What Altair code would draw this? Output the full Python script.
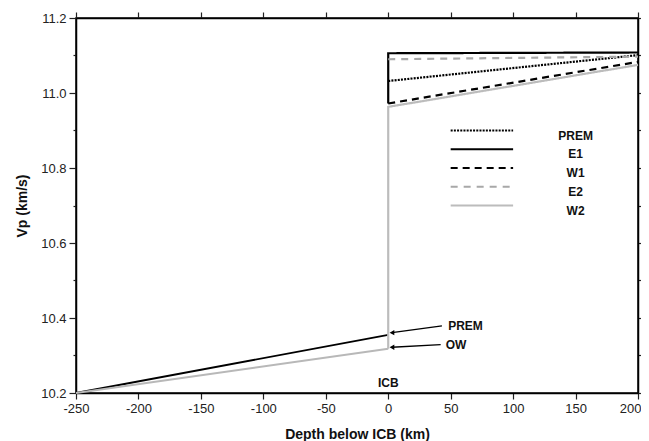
import altair as alt
import pandas as pd

# ---- data ----
# outer core (depth < 0)
oc_depth = [-250, 0]
oc_prem = [10.200, 10.355]
oc_ow = [10.200, 10.318]

# inner core models
ic_names = ["PREM", "E1", "W1", "E2", "W2"]
ic_depths = {
    "PREM": [0, 200],
    "E1": [0, 0, 200],
    "W1": [0, 0, 200],
    "E2": [0, 200],
    "W2": [0, 0, 200],
}
ic_values = {
    "PREM": [11.032, 11.101],
    "E1": [10.972, 11.106, 11.108],
    "W1": [10.972, 10.972, 11.083],
    "E2": [11.090, 11.097],
    "W2": [10.318, 10.963, 11.075],
}

# key (legend) placement, in data units
key_x_start = 50
key_x_end = 100
key_label_x = 150
key_rows_y = [10.900, 10.850, 10.800, 10.750, 10.700]

# annotation arrows (tail -> tip)
arrow_labels = ["PREM", "OW"]
arrow_tail_x = [43, 42]
arrow_tail_y = [10.379, 10.329]
arrow_tip_x = [3, 3]
arrow_tip_y = [10.361, 10.322]
arrow_text_x = [48, 46]

icb_label = ["ICB"]
icb_x = [0]
icb_y = [10.228]

x_ticks = [-250, -200, -150, -100, -50, 0, 50, 100, 150, 200]
y_ticks = [10.2, 10.3, 10.4, 10.5, 10.6, 10.7, 10.8, 10.9, 11.0, 11.1, 11.2]

# ---- tables ----
oc_df = pd.DataFrame({
    "depth": oc_depth * 2,
    "vp": oc_prem + oc_ow,
    "model": ["PREM_oc"] * 2 + ["OW"] * 2,
})
rows = []
for n in ic_names:
    for i, (d, v) in enumerate(zip(ic_depths[n], ic_values[n])):
        rows.append({"depth": d, "vp": v, "model": n, "i": i})
ic_df = pd.DataFrame(rows)

key_rows = []
for n, yv in zip(ic_names, key_rows_y):
    key_rows.append({"depth": key_x_start, "vp": yv, "model": n, "i": 0})
    key_rows.append({"depth": key_x_end, "vp": yv, "model": n, "i": 1})
key_df = pd.DataFrame(key_rows)
key_lbl_df = pd.DataFrame({"label": ic_names, "x": [key_label_x] * 5, "y": key_rows_y})

arr_df = pd.DataFrame({
    "label": arrow_labels, "x": arrow_tail_x, "y": arrow_tail_y,
    "x2": arrow_tip_x, "y2": arrow_tip_y, "tx": arrow_text_x,
})
icb_df = pd.DataFrame({"label": icb_label, "x": icb_x, "y": icb_y})

FONT = "Liberation Sans"
xs = alt.Scale(domain=[-250, 200], nice=False, zero=False)
ys = alt.Scale(domain=[10.2, 11.2], nice=False, zero=False)

minor = "round(datum.value*10)%2==1"
last_x = "datum.value == 200"
x_axis = alt.Axis(values=x_ticks, title="Depth below ICB (km)", tickSize=6,
                  labelExpr="'' + datum.value", labelFlush=False, labelOverlap=False,
                  labelAlign={"condition": {"test": last_x, "value": "right"}, "value": "center"},
                  labelOffset={"condition": {"test": last_x, "value": 3}, "value": 0},
                  labelPadding=3, titleY=45, titleBaseline="alphabetic")
y_axis = alt.Axis(values=y_ticks, title="Vp (km/s)",
                  labelExpr=f"{minor} ? '' : format(datum.value, '.1f')",
                  labelFlush=False, labelOverlap=False,
                  tickSize={"condition": {"test": minor, "value": 3}, "value": 7},
                  labelPadding=3, titleX=-54, titleBaseline="middle")

base = alt.Chart(oc_df).mark_line(strokeWidth=1.8).encode(
    x=alt.X("depth:Q", scale=xs, axis=x_axis),
    y=alt.Y("vp:Q", scale=ys, axis=y_axis),
    color=alt.Color("model:N", scale=alt.Scale(domain=["OW", "PREM_oc"], range=["#b8b8b8", "#000000"]), legend=None),
    order=alt.Order("depth:Q"),
)

frame = alt.Chart(oc_df).mark_line(opacity=0).encode(
    x=alt.X("depth:Q", scale=xs, axis=alt.Axis(orient="top", values=x_ticks, labels=False, title=None, tickSize=6)),
    y=alt.Y("vp:Q", scale=ys, axis=alt.Axis(orient="right", values=y_ticks, labels=False, title=None, tickSize=5)),
)

colors = ["#000000", "#000000", "#000000", "#a8a8a8", "#bcbcbc"]
dashes = [[2, 1.2], [1, 0], [7, 5], [7, 6], [1, 0]]
widths = [2.2, 2.2, 2.6, 2.0, 2.0]


def model_lines(df):
    return alt.Chart(df).mark_line().encode(
        x=alt.X("depth:Q", scale=xs, axis=None),
        y=alt.Y("vp:Q", scale=ys, axis=None),
        color=alt.Color("model:N", scale=alt.Scale(domain=ic_names, range=colors), legend=None),
        strokeDash=alt.StrokeDash("model:N", scale=alt.Scale(domain=ic_names, range=dashes), legend=None),
        strokeWidth=alt.StrokeWidth("model:N", scale=alt.Scale(domain=ic_names, range=widths), legend=None),
        detail="model:N",
        order=alt.Order("i:Q"),
    )


inner = model_lines(ic_df)
key_lines = model_lines(key_df)
key_text = alt.Chart(key_lbl_df).mark_text(align="center", baseline="middle", dy=5, font=FONT,
                                           fontSize=12, fontWeight="bold", color="#111").encode(
    x=alt.X("x:Q", scale=xs, axis=None), y=alt.Y("y:Q", scale=ys, axis=None), text="label:N",
)

arrows = alt.Chart(arr_df).mark_rule(color="black", strokeWidth=1.3).encode(
    x=alt.X("x:Q", scale=xs, axis=None), y=alt.Y("y:Q", scale=ys, axis=None),
    x2="x2:Q", y2="y2:Q",
)
heads = alt.Chart(arr_df).mark_point(shape="triangle-left", filled=True, color="black", size=30, opacity=1).encode(
    x=alt.X("x2:Q", scale=xs, axis=None), y=alt.Y("y2:Q", scale=ys, axis=None),
)
arr_text = alt.Chart(arr_df).mark_text(align="left", baseline="middle", font=FONT, fontSize=12,
                                       fontWeight="bold", color="#111").encode(
    x=alt.X("tx:Q", scale=xs, axis=None), y=alt.Y("y:Q", scale=ys, axis=None), text="label:N",
)
icb_text = alt.Chart(icb_df).mark_text(align="center", baseline="middle", font=FONT, fontSize=12,
                                       fontWeight="bold", color="#111").encode(
    x=alt.X("x:Q", scale=xs, axis=None), y=alt.Y("y:Q", scale=ys, axis=None), text="label:N",
)

chart = alt.layer(base, frame, inner, key_lines, key_text, arrows, heads, arr_text, icb_text).resolve_axis(
    x="independent", y="independent"
).resolve_scale(
    color="independent", strokeDash="independent", strokeWidth="independent"
).properties(
    width=562, height=375,
    autosize=alt.AutoSizeParams(type="none"),
    padding={"left": 68, "top": 10, "right": 3, "bottom": 48},
).configure_view(stroke="black", strokeWidth=1.5).configure_axis(
    labelFont=FONT, labelFontSize=13, labelColor="#222", titleFont=FONT, titleFontSize=14,
    titleFontWeight="bold", titleColor="#111", tickColor="#222", domainColor="black",
    domainWidth=1.5, tickWidth=1.2, grid=False,
)

chart.save("out.html", embed_options={"renderer": "svg", "actions": False})
